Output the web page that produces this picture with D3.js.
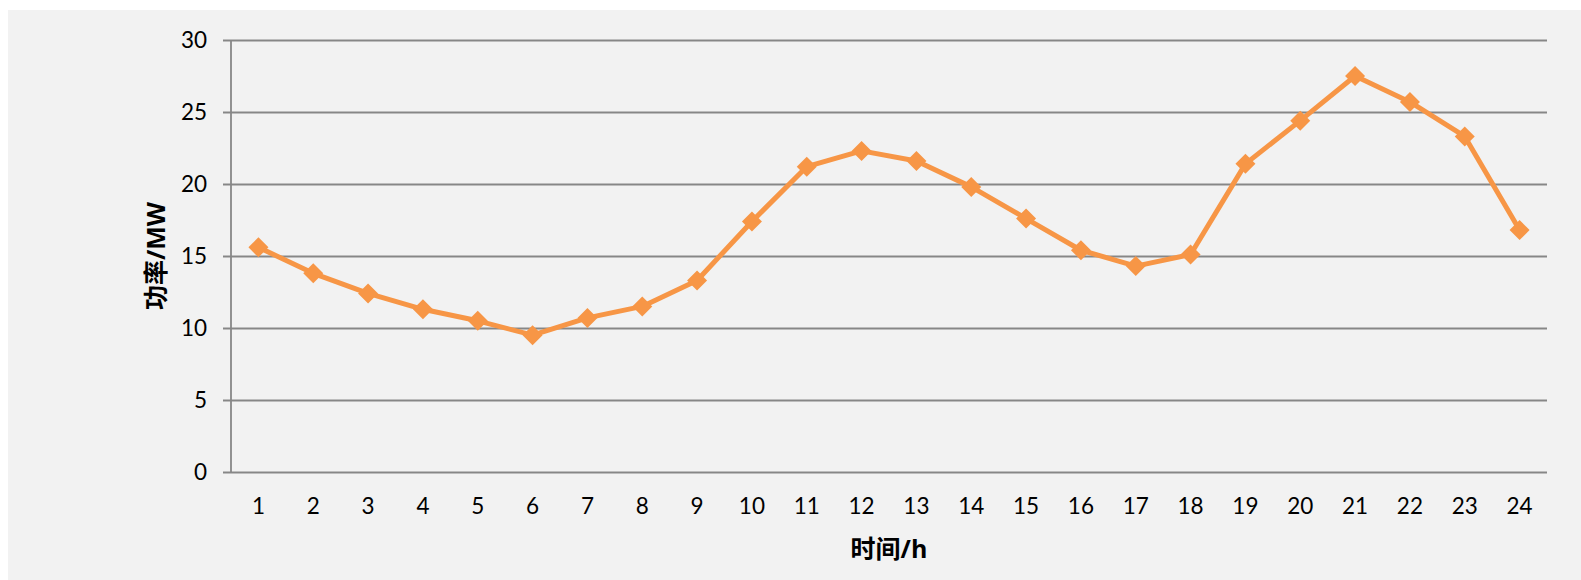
<!DOCTYPE html>
<html>
<head>
<meta charset="utf-8">
<script src="https://cdn.jsdelivr.net/npm/d3@7"></script>
<style>
  html, body { margin: 0; padding: 0; background: #ffffff; }
  svg { display: block; }
</style>
</head>
<body>
<script>
// Hourly power profile (MW) over a day
const hours = ["1","2","3","4","5","6","7","8","9","10","11","12",
               "13","14","15","16","17","18","19","20","21","22","23","24"];
const power = [15.6, 13.8, 12.4, 11.3, 10.5, 9.5, 10.7, 11.5, 13.3, 17.4, 21.2, 22.3,
               21.6, 19.8, 17.6, 15.4, 14.3, 15.1, 21.4, 24.4, 27.5, 25.7, 23.3, 16.8];
const yTicks = [0, 5, 10, 15, 20, 25, 30];
const xTitle = "时间/h";
const yTitle = "功率/MW";

const W = 1581, H = 580;
const plot = { left: 231, right: 1547, top: 40, bottom: 472 };
const lineColor = "#f79646";
const gridColor = "#878787";
const latin = "Lato, 'Open Sans', 'Noto Sans', sans-serif";
const titleFont = "'Open Sans', 'Noto Sans CJK SC', sans-serif";

const svg = d3.select("body").append("svg")
  .attr("width", W).attr("height", H);

// chart area background
svg.append("rect")
  .attr("x", 8).attr("y", 10)
  .attr("width", W - 8).attr("height", H - 10)
  .attr("fill", "#f2f2f2");

const x = d3.scaleBand()
  .domain(hours)
  .range([plot.left, plot.right]);

const y = d3.scaleLinear()
  .domain([0, 30])
  .range([plot.bottom, plot.top]);

// horizontal gridlines with outward ticks on the left
const yAxis = d3.axisLeft(y)
  .tickValues(yTicks)
  .tickSize(-(plot.right - plot.left))
  .tickPadding(24)
  .tickFormat(d3.format("d"));

const gy = svg.append("g")
  .attr("transform", `translate(${plot.left},0)`)
  .call(yAxis);
gy.select(".domain").remove();
gy.selectAll(".tick line")
  .attr("x1", -8)
  .attr("stroke", gridColor)
  .attr("stroke-width", 1.8);
gy.selectAll(".tick text")
  .attr("fill", "#000")
  .style("font-family", latin)
  .style("font-size", "22.5px");

// vertical axis line
svg.append("line")
  .attr("x1", plot.left).attr("x2", plot.left)
  .attr("y1", plot.top).attr("y2", plot.bottom)
  .attr("stroke", gridColor).attr("stroke-width", 1.8);

// category axis labels
const xAxis = d3.axisBottom(x).tickSize(0).tickPadding(26);
const gx = svg.append("g")
  .attr("transform", `translate(0,${plot.bottom})`)
  .call(xAxis);
gx.select(".domain").remove();
gx.selectAll(".tick text")
  .attr("fill", "#000")
  .style("font-family", latin)
  .style("font-size", "22.5px");

// series line
const line = d3.line()
  .x((d, i) => x(hours[i]) + x.bandwidth() / 2)
  .y(d => y(d));

svg.append("path")
  .datum(power)
  .attr("d", line)
  .attr("fill", "none")
  .attr("stroke", lineColor)
  .attr("stroke-width", 5)
  .attr("stroke-linejoin", "round");

// diamond markers
const diamond = d3.symbol().type(d3.symbolSquare).size(200);
svg.append("g").selectAll("path")
  .data(power)
  .join("path")
  .attr("d", diamond)
  .attr("transform", (d, i) =>
    `translate(${x(hours[i]) + x.bandwidth() / 2},${y(d)}) rotate(45)`)
  .attr("fill", lineColor);

// axis titles
svg.append("text")
  .attr("x", (plot.left + plot.right) / 2)
  .attr("y", 548)
  .attr("text-anchor", "middle")
  .attr("dominant-baseline", "central")
  .style("font-family", titleFont)
  .style("font-size", "25px")
  .style("font-weight", "bold")
  .text(xTitle);

svg.append("text")
  .attr("transform", `translate(155,${(plot.top + plot.bottom) / 2}) rotate(-90)`)
  .attr("text-anchor", "middle")
  .attr("dominant-baseline", "central")
  .style("font-family", titleFont)
  .style("font-size", "25px")
  .style("font-weight", "bold")
  .text(yTitle);
</script>
</body>
</html>
